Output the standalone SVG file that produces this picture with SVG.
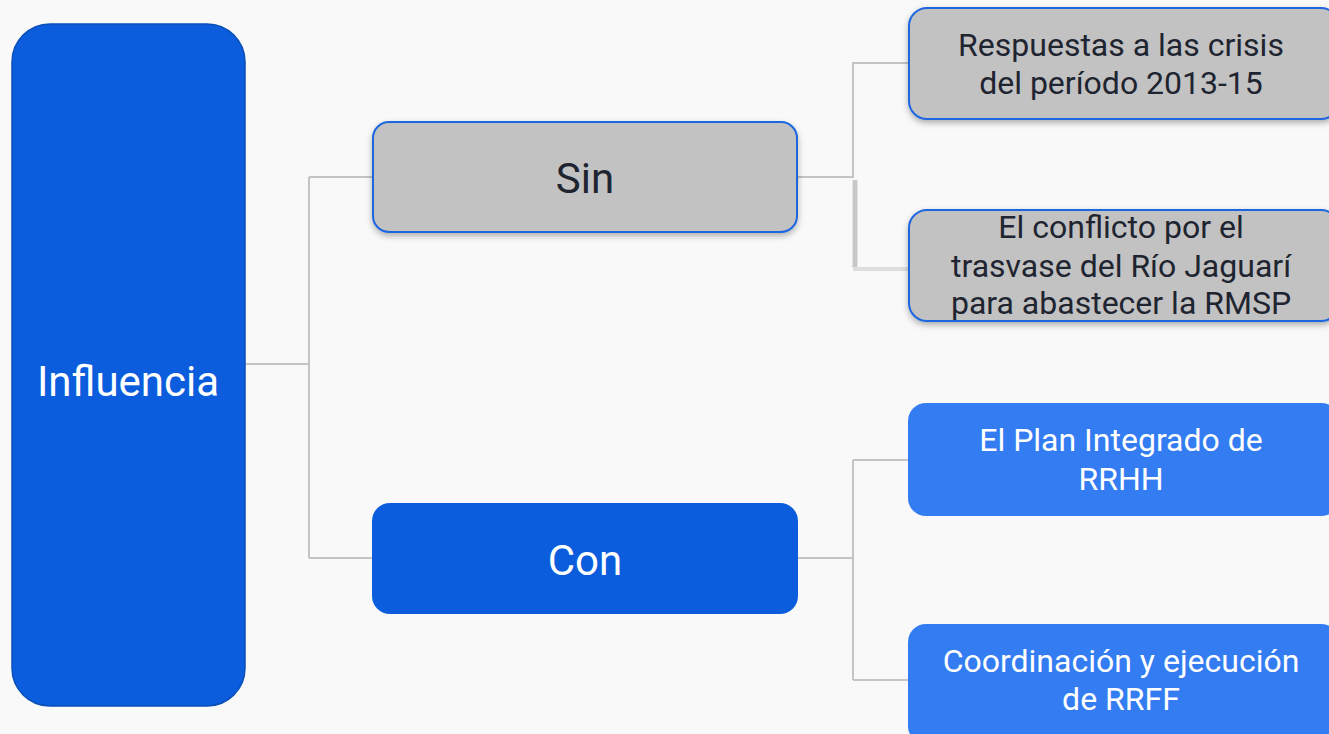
<svg xmlns="http://www.w3.org/2000/svg" width="1329" height="734" viewBox="0 0 1329 734">
<defs>
<filter id="sh" x="-10%" y="-20%" width="120%" height="150%">
<feDropShadow dx="0" dy="3" stdDeviation="3" flood-color="#000" flood-opacity="0.3"/>
</filter>
<style>
text{font-family:Roboto,"Liberation Sans",sans-serif;text-anchor:middle}
.grey{fill:#c2c2c2;stroke:#1f66e0;stroke-width:2}
.dark{fill:#0c5ddd}
.light{fill:#337cf2}
.tdark{fill:#1e2430}
.twhite{fill:#ffffff}
.big{font-size:42px}
.small{font-size:32px}
.conn{fill:none;stroke:#c4c4c4;stroke-width:2}
</style>
</defs>
<rect width="1329" height="734" fill="#f9f9f9"/>
<g id="connectors">
<path class="conn" d="M245 364H309M309 177V558M309 177H373M309 558H372"/>
<path class="conn" d="M797 177H853V63H909"/>
<path d="M855 180V268" fill="none" stroke="#c8c8c8" stroke-width="5"/>
<path d="M853 269H909" fill="none" stroke="#dedede" stroke-width="4"/>
<path class="conn" d="M798 558H853M853 460V680M853 460H908M853 680H908"/>
</g>
<g id="node-influencia">
<rect x="12" y="24" width="233" height="682" rx="38" class="dark" stroke="#0a4fb8" stroke-width="1.5"/>
<text x="128" y="396" class="big twhite">Influencia</text>
</g>
<g id="node-sin">
<rect x="373" y="122" width="424" height="110" rx="16" class="grey" filter="url(#sh)"/>
<text x="585" y="193" class="big tdark">Sin</text>
</g>
<g id="node-con">
<rect x="372" y="503" width="426" height="111" rx="18" class="dark"/>
<text x="585" y="575" class="big twhite">Con</text>
</g>
<g id="node-respuestas">
<rect x="909" y="8" width="430" height="111" rx="18" class="grey" filter="url(#sh)"/>
<text x="1121" y="56" class="small tdark">Respuestas a las crisis</text>
<text x="1121" y="94" class="small tdark">del período 2013-15</text>
</g>
<g id="node-conflicto">
<rect x="909" y="210" width="430" height="111" rx="18" class="grey" filter="url(#sh)"/>
<text x="1121" y="238" class="small tdark">El conflicto por el</text>
<text x="1121" y="277" class="small tdark">trasvase del Río Jaguarí</text>
<text x="1121" y="314" class="small tdark">para abastecer la RMSP</text>
</g>
<g id="node-plan">
<rect x="908" y="403" width="431" height="113" rx="18" class="light"/>
<text x="1121" y="451" class="small twhite">El Plan Integrado de</text>
<text x="1121" y="490" class="small twhite">RRHH</text>
</g>
<g id="node-coord">
<rect x="908" y="624" width="431" height="120" rx="18" class="light"/>
<text x="1121" y="672" class="small twhite">Coordinación y ejecución</text>
<text x="1121" y="710" class="small twhite">de RRFF</text>
</g>
</svg>
